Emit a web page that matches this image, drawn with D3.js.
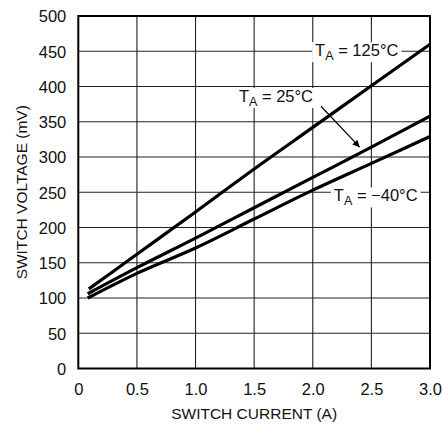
<!DOCTYPE html>
<html>
<head>
<meta charset="utf-8">
<script src="https://cdn.jsdelivr.net/npm/d3@7"></script>
<style>
  html, body { margin: 0; padding: 0; background: #fff; }
  svg { display: block; font-family: "Liberation Sans", Arial, sans-serif; }
</style>
</head>
<body>
<svg id="chart" width="444" height="427"></svg>
<script>
// ---- data ----
const xTicks = [0, 0.5, 1.0, 1.5, 2.0, 2.5, 3.0];
const xTickLabels = ["0", "0.5", "1.0", "1.5", "2.0", "2.5", "3.0"];
const yTicks = [0, 50, 100, 150, 200, 250, 300, 350, 400, 450, 500];
const seriesNames = ["125", "25", "−40"];
const current125 = [0.09, 0.3, 0.5, 1.0, 1.5, 2.0, 2.5, 3.0];
const voltage125 = [113, 138, 162, 222, 283, 342, 401, 460];
const current25 = [0.08, 0.5, 1.0, 1.5, 2.0, 2.5, 3.0];
const voltage25 = [106, 143, 185, 228, 271, 314, 358];
const currentM40 = [0.08, 0.5, 1.0, 1.5, 2.0, 2.5, 3.0];
const voltageM40 = [100, 135, 171, 212, 253, 291, 329];
const xTitle = "SWITCH CURRENT (A)";
const yTitle = "SWITCH VOLTAGE (mV)";

// ---- layout ----
const svg = d3.select("#chart");
const L = 78.3, R = 430, T = 16, B = 368.5;
const x = d3.scaleLinear().domain([0, 3]).range([L, R]);
const y = d3.scaleLinear().domain([0, 500]).range([B, T]);

// grid
const g = svg.append("g");
g.selectAll("line.vg").data(xTicks.slice(1, -1)).enter().append("line")
  .attr("x1", d => x(d)).attr("x2", d => x(d)).attr("y1", T).attr("y2", B)
  .attr("stroke", "#222").attr("stroke-width", 1.1);
g.selectAll("line.hg").data(yTicks.slice(1, -1)).enter().append("line")
  .attr("x1", L).attr("x2", R).attr("y1", d => y(d)).attr("y2", d => y(d))
  .attr("stroke", "#222").attr("stroke-width", 1.1);

// frame
svg.append("rect").attr("x", L).attr("y", T).attr("width", R - L).attr("height", B - T)
  .attr("fill", "none").attr("stroke", "#000").attr("stroke-width", 2);

// axes (labels only)
const xAxis = d3.axisBottom(x).tickValues(xTicks).tickFormat((d, i) => xTickLabels[i]).tickSize(0).tickPadding(0);
const xg = svg.append("g").attr("transform", `translate(0,${B})`).call(xAxis);
xg.select(".domain").remove();
xg.selectAll("text").attr("y", 26.5).attr("dy", null)
  .attr("font-size", 16.5).attr("font-family", "Liberation Sans, Arial, sans-serif").attr("fill", "#111");

const yAxis = d3.axisLeft(y).tickValues(yTicks).tickFormat(d3.format("d")).tickSize(0).tickPadding(0);
const yg = svg.append("g").attr("transform", `translate(${L},0)`).call(yAxis);
yg.select(".domain").remove();
yg.selectAll("text").attr("x", -12).attr("dy", "0.36em")
  .attr("font-size", 16.5).attr("font-family", "Liberation Sans, Arial, sans-serif").attr("fill", "#111");

// titles
svg.append("text").attr("x", (L + R) / 2).attr("y", 419).attr("text-anchor", "middle")
  .attr("font-size", 15.5).attr("fill", "#111").text(xTitle);
svg.append("text").attr("transform", `translate(26.5,${(T + B) / 2}) rotate(-90)`)
  .attr("text-anchor", "middle").attr("font-size", 15.5).attr("fill", "#111").text(yTitle);

// curves
const line = d3.line().x(d => x(d[0])).y(d => y(d[1])).curve(d3.curveMonotoneX);
const series = [
  d3.zip(current125, voltage125),
  d3.zip(current25, voltage25),
  d3.zip(currentM40, voltageM40)
];
svg.selectAll("path.curve").data(series).enter().append("path")
  .attr("d", line).attr("fill", "none").attr("stroke", "#000")
  .attr("stroke-width", 3.2).attr("stroke-linejoin", "round");

// annotations
function label(name, cx, cy) {
  const t = svg.append("text").attr("x", x(cx)).attr("y", y(cy))
    .attr("font-size", 16.5).attr("fill", "#111");
  t.append("tspan").text("T");
  t.append("tspan").attr("font-size", 12.5).attr("dy", 4).text("A");
  t.append("tspan").attr("dy", -4).text(" = " + name + "°C");
  const bb = t.node().getBBox();
  svg.insert("rect", function () { return t.node(); })
    .attr("x", bb.x - 3).attr("y", bb.y + 1).attr("width", bb.width + 6).attr("height", bb.height - 2)
    .attr("fill", "#fff");
  return t;
}
label(seriesNames[0], 2.02, 443);
label(seriesNames[1], 1.37, 378);
label(seriesNames[2], 2.18, 237);

// arrow
svg.append("defs").append("marker").attr("id", "ah").attr("viewBox", "0 0 10 10")
  .attr("refX", 10).attr("refY", 5).attr("markerWidth", 9).attr("markerHeight", 7)
  .attr("markerUnits", "userSpaceOnUse").attr("orient", "auto")
  .append("path").attr("d", "M0,0 L10,5 L0,10 Z").attr("fill", "#000");
svg.append("line").attr("x1", x(2.07)).attr("y1", y(372)).attr("x2", x(2.4)).attr("y2", y(314))
  .attr("stroke", "#000").attr("stroke-width", 1.2).attr("marker-end", "url(#ah)");
</script>
</body>
</html>
